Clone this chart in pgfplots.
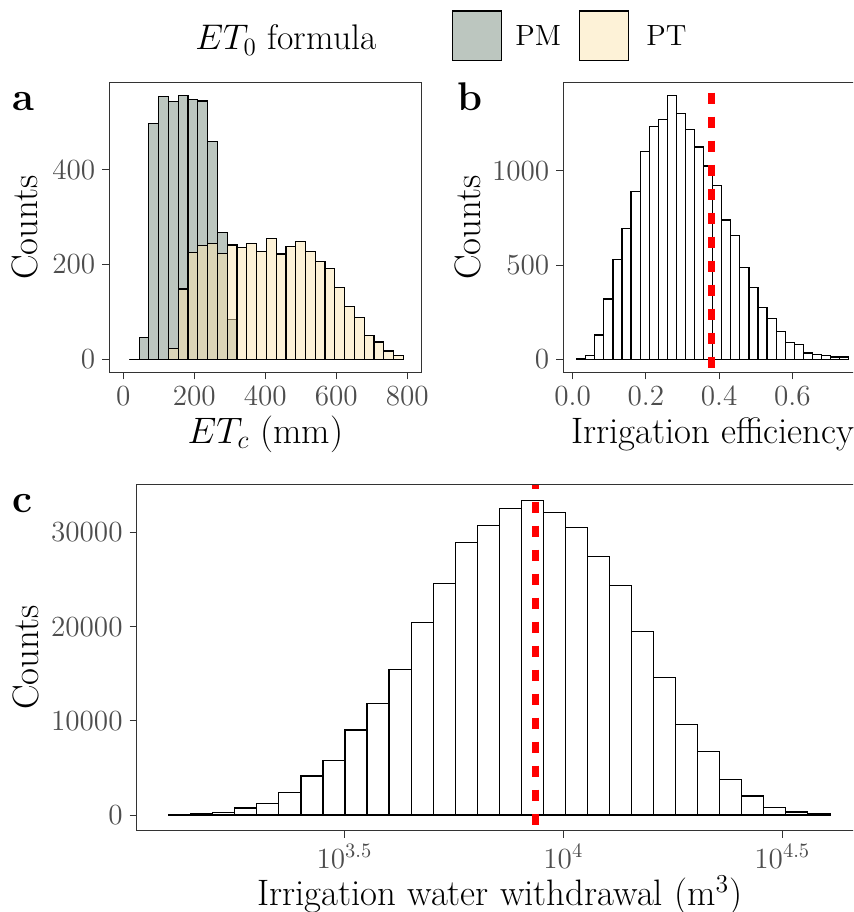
\RequirePackage{fix-cm}
\documentclass[border=0pt]{standalone}
\usepackage{pgfplots}
\pgfplotsset{compat=1.18}
\definecolor{pmcol}{HTML}{7A8E80}
\definecolor{ptcol}{HTML}{FBE6AF}
\definecolor{pmleg}{HTML}{BCC6BF}
\definecolor{ptleg}{HTML}{FDF2D7}
\definecolor{bordercol}{HTML}{333333}
\definecolor{tickcol}{HTML}{4D4D4D}
\newcommand\ticksize{\fontsize{14.6}{17.5}\selectfont}
\newcommand\titlesize{\fontsize{18.4}{22}\selectfont}
\newcommand\legtitlesize{\fontsize{17.8}{21}\selectfont}
\newcommand\legsize{\fontsize{14.6}{17.5}\selectfont}
\newcommand\tagsize{\fontsize{20}{24}\selectfont\bfseries}
\pgfplotsset{
  hist/.style={
    scale only axis, anchor=north west,
    axis line style={draw=bordercol, line width=0.45pt},
    tick align=outside, tick pos=left, major tick length=3.5pt,
    tick style={draw=bordercol, line width=0.45pt},
    ticklabel style={font=\ticksize, text=tickcol},
    /pgf/number format/1000 sep={},
    scaled ticks=false,
    every axis x label/.style={at={(rel axis cs:0.5,0)}, anchor=center, yshift=-30.8pt, font=\titlesize},
    every axis y label/.style={at={(rel axis cs:0,0.5)}, anchor=center, font=\titlesize},
  },
  barstyle/.style={ybar interval, draw=black, line width=0.6pt},
}
\begin{document}
\begin{tikzpicture}
\useasboundingbox (0pt,0pt) rectangle (426.5pt,-456pt);
\clip (0pt,0pt) rectangle (426.5pt,-456pt);

% ---------------- panel a ----------------
\begin{axis}[hist, at={(54.65pt,-41.35pt)}, width=156.2pt, height=144.8pt,
  xmin=-39.4, xmax=840.6, ymin=-27.8, ymax=583.8,
  xtick={0,200,400,600,800}, ytick={0,200,400},
  xlabel={$ET_c$ (mm)}, ylabel={Counts},
  ylabel style={xshift=-42.2pt, rotate=90}]
\addplot[barstyle, fill=pmcol, fill opacity=0.5] coordinates {
(17.0,0) (44.6,45) (72.1,498) (99.7,554) (127.3,544) (154.9,556) (182.4,549)
(210.0,545) (237.6,460) (265.1,268) (292.7,84) (320.3,0)};
\addplot[barstyle, fill=ptcol, fill opacity=0.5] coordinates {
(17.0,0) (44.6,0) (72.1,0) (99.7,0) (127.3,22) (154.9,148) (182.4,225) (210.0,240)
(237.6,245) (265.1,223) (292.7,241) (320.3,236) (347.8,245) (375.4,227) (403.0,255)
(430.6,222) (458.1,238) (485.7,248) (513.3,227) (540.8,206) (568.4,192) (596.0,152)
(623.5,111) (651.1,88) (678.7,50) (706.3,36) (733.8,17) (761.4,7) (789.0,0)};
\end{axis}

% ---------------- panel b ----------------
\begin{axis}[hist, at={(281.65pt,-41.35pt)}, width=149.45pt, height=144.8pt,
  xmin=-0.0257, xmax=0.791, ymin=-69.9, ymax=1467.9,
  xtick={0,0.2,0.4,0.6}, ytick={0,500,1000},
  xticklabel style={/pgf/number format/fixed, /pgf/number format/fixed zerofill, /pgf/number format/precision=1},
  xlabel={Irrigation efficiency}, ylabel={Counts},
  ylabel style={xshift=-47.65pt, rotate=90}]
\addplot[barstyle, fill=white] coordinates {
(0.0109,5) (0.0357,21) (0.0604,128) (0.0852,319) (0.1100,528) (0.1348,692)
(0.1595,889) (0.1843,1104) (0.2091,1234) (0.2338,1271) (0.2586,1398) (0.2834,1305)
(0.3081,1218) (0.3329,1127) (0.3577,1026) (0.3825,924) (0.4072,739) (0.4320,658)
(0.4568,488) (0.4815,382) (0.5063,276) (0.5311,217) (0.5558,148) (0.5806,90)
(0.6054,79) (0.6302,33) (0.6549,25) (0.6797,19) (0.7045,11) (0.7292,11) (0.7540,0)};
\addplot[red, line width=3.6pt, dash pattern=on 5.7pt off 6.3pt, dash phase=7pt]
  coordinates {(0.38,1467.9) (0.38,-69.9)};
\end{axis}

% ---------------- panel c ----------------
\begin{axis}[hist, at={(68.35pt,-242.35pt)}, width=363.1pt, height=173pt,
  xmin=3.0258, xmax=4.684, ymin=-1670, ymax=35071,
  xtick={3.5,4,4.5}, xticklabels={$10^{3.5}$,$10^{4}$,$10^{4.5}$},
  ytick={0,10000,20000,30000},
  xlabel={Irrigation water withdrawal (m$^3$)}, xlabel style={yshift=-1.4pt},
  ylabel={Counts}, ylabel style={xshift=-55.6pt, rotate=90}]
\addplot[barstyle, fill=white] coordinates {
(3.0988,70) (3.1491,177) (3.1995,283) (3.2498,744) (3.3001,1240) (3.3505,2409)
(3.4008,4144) (3.4511,5809) (3.5014,9032) (3.5518,11830) (3.6021,15443) (3.6524,20437)
(3.7028,24546) (3.7531,28939) (3.8034,30710) (3.8538,32586) (3.9041,33401) (3.9544,32091)
(4.0047,30568) (4.0551,27415) (4.1054,24405) (4.1557,19481) (4.2061,14558) (4.2564,9634)
(4.3067,6730) (4.3571,3790) (4.4074,2019) (4.4577,779) (4.5080,319) (4.5584,106) (4.6087,0)};
\addplot[red, line width=3.7pt, dash pattern=on 5.8pt off 6.2pt, dash phase=3.5pt]
  coordinates {(3.9358,35071) (3.9358,-1670)};
\end{axis}

% ---------------- tags ----------------
\node[anchor=base west, inner sep=0pt, font=\tagsize] at (5.85pt,-55pt) {a};
\node[anchor=base west, inner sep=0pt, font=\tagsize] at (228.35pt,-55pt) {b};
\node[anchor=base west, inner sep=0pt, font=\tagsize] at (5.85pt,-256pt) {c};

% ---------------- legend ----------------
\node[anchor=west, inner sep=0pt, font=\legtitlesize] at (97.5pt,-20pt) {$ET_0$ formula};
\draw[draw=black, line width=0.6pt, fill=pmleg] (226.35pt,-5.5pt) rectangle (250.85pt,-30.35pt);
\node[anchor=west, inner sep=0pt, font=\legsize] at (257.5pt,-17.9pt) {PM};
\draw[draw=black, line width=0.6pt, fill=ptleg] (289.75pt,-5.5pt) rectangle (314.2pt,-30.35pt);
\node[anchor=west, inner sep=0pt, font=\legsize] at (323pt,-17.9pt) {PT};
\end{tikzpicture}
\end{document}
